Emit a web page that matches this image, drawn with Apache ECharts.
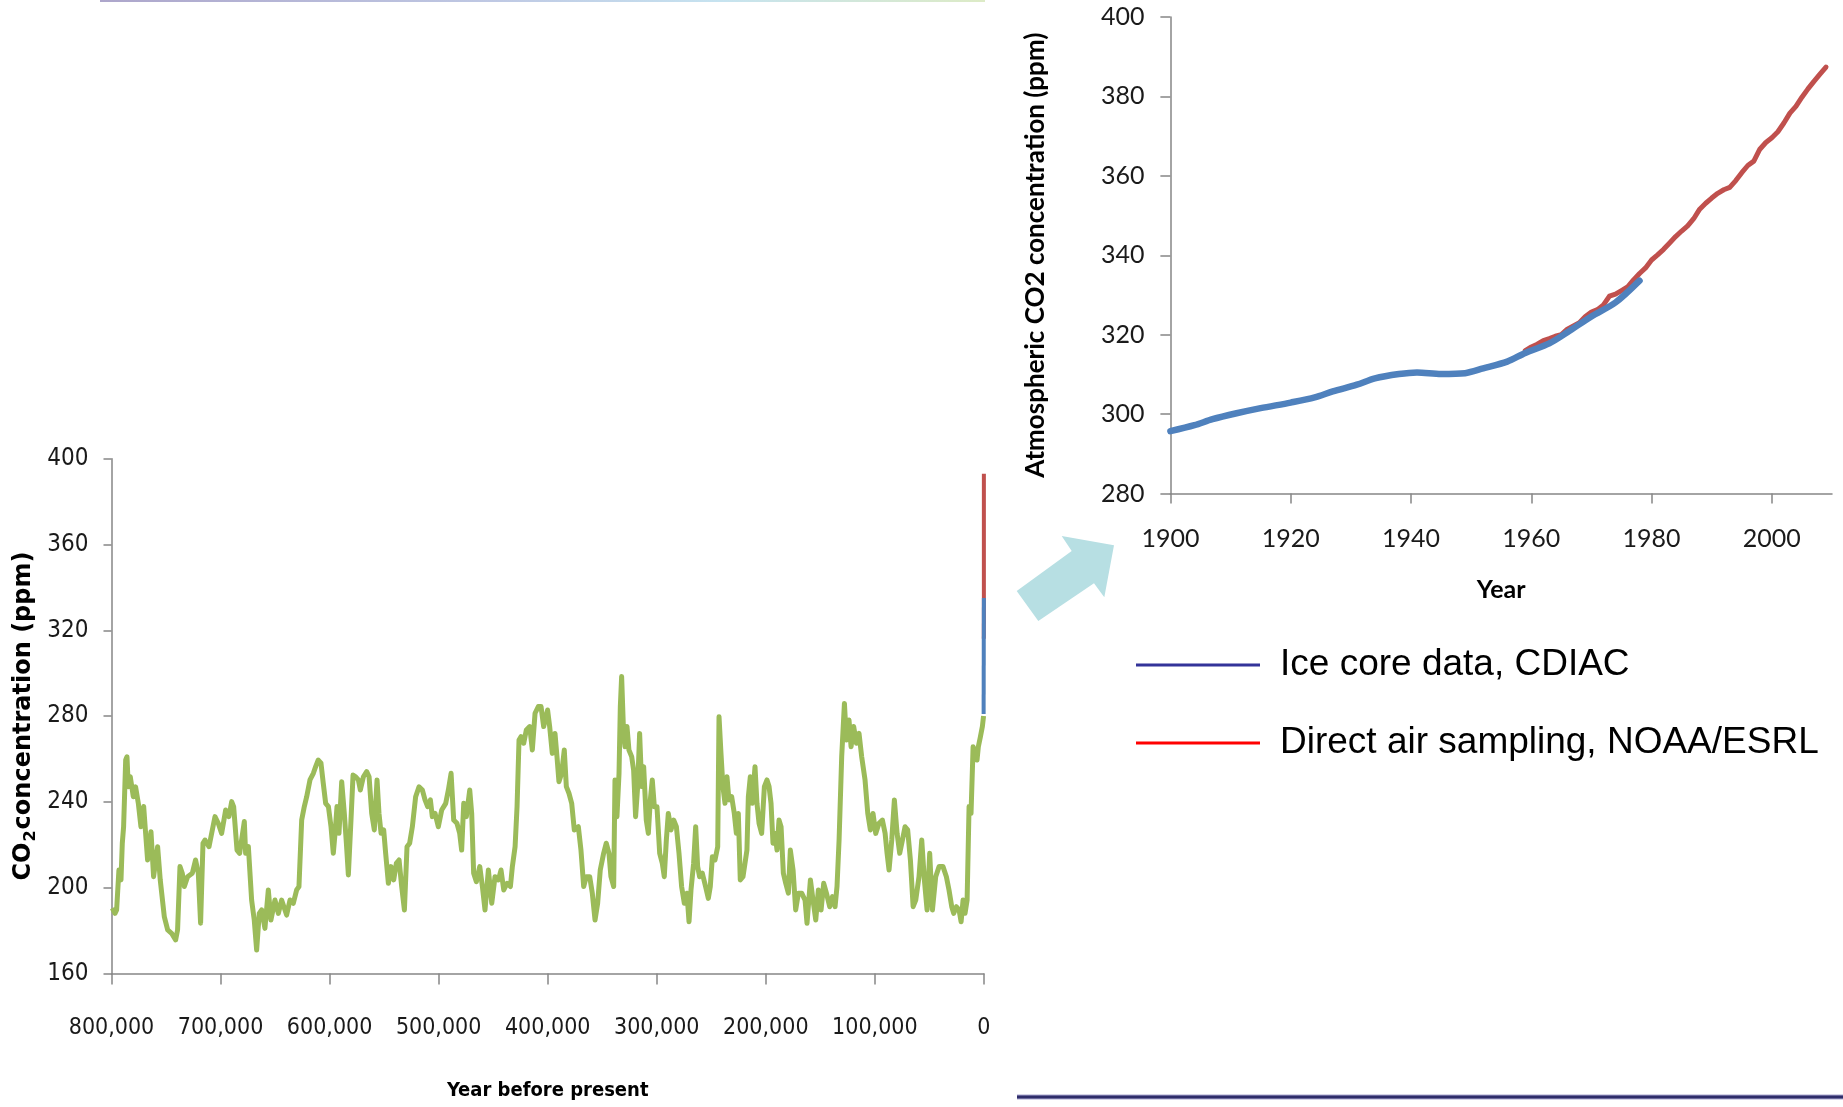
<!DOCTYPE html>
<html>
<head>
<meta charset="utf-8">
<script src="https://cdn.jsdelivr.net/npm/echarts@6/dist/echarts.min.js"></script>
<style>
html,body{margin:0;padding:0;background:#ffffff;}
#chart{width:1843px;height:1107px;}
</style>
</head>
<body>
<div id="chart"></div>
<script>
// ---------- tick labels ----------
const leftXTicks = [0, 100000, 200000, 300000, 400000, 500000, 600000, 700000, 800000];
const leftYTicks = [160, 200, 240, 280, 320, 360, 400];
const rightXTicks = [1900, 1920, 1940, 1960, 1980, 2000];
const rightYTicks = [280, 300, 320, 340, 360, 380, 400];

// ---------- legend names ----------
const legendNames = ['Ice core data, CDIAC', 'Direct air sampling, NOAA/ESRL'];

// ---------- 800,000-year ice core record (thousand years before present, ppm) ----------
const epicaKyrBP = [
799.3,796.8,795.3,793.2,791.3,790.1,788.9,787,785.8,784.6,782.8,780,777.9,775.4,773,770.5,768.7,766.9,763.8,761.4,
757.7,755.3,751.6,748.5,744.9,741.2,739.4,737.2,735.1,733.2,730.2,725.9,722.9,720.4,718.3,716.1,714.3,710.6,705.1,702.1,
699,695.3,692.3,689.8,688,684.9,682.5,680.7,678.2,677,674.5,671.5,669.1,666.9,664.5,662.3,659.3,656.2,653.8,650.1,
647,644,639.4,636.3,633.3,630.2,628.1,625.6,623.2,621,618,614.9,612.8,610.4,607.9,605.8,603.6,
601.1,598.7,596.6,595,593.2,591.4,588.9,586.5,584.6,582.8,580.4,578.5,576.1,573.6,571.8,569,566,563.8,561.4,559,
556.5,554.7,552.8,550.4,548.6,546.1,543.7,541.2,538.8,536.3,533.9,531.4,529,526.6,524.1,521.1,518,514.9,512.5,510.1,
507.6,505.8,503.3,500.3,497.2,493.5,491.1,488.6,486.2,483.2,480.7,478.9,477,474.6,471.5,469.7,467.9,465.4,462.3,459.9,
457.5,454.4,451.3,448.3,445.2,442.8,440.3,437.3,434.2,432.4,429.9,428.1,426.3,424.4,422,419.6,416.5,414.1,411.6,408.6,
406.1,403.7,
400.1,398.2,395.8,393.3,391.5,389.7,387.2,384.8,382.9,380.5,378,375.6,371.9,369.5,367,364.6,361.5,359.1,356.6,354.2,
351.8,348.7,346.3,343.8,342,339.5,338.3,336.5,334.6,333.4,332.2,330.4,329.1,327.3,325.5,323,321.2,319.4,317.5,315.7,
313.8,312,309.6,307.7,305.9,304.1,302.2,299.8,297.3,294.9,293.1,291.2,289.4,286.9,284.5,282,279.6,277.2,274.7,272.3,
270.4,268.6,266.2,264.3,262.5,260.7,258.2,255.2,252.7,250.9,249,246.6,244.1,242.9,241.1,239.3,237.4,235.6,233.8,231.3,
228.9,227,225.2,223.4,220.9,219.1,217.3,216,214.2,212.4,209.9,208.1,206.2,203.8,201.3,
198.9,197,195.2,193.4,191.5,189.7,187.9,186,183.9,181.7,179.3,177.5,175,172.6,170.1,167.1,164,162.2,159.1,156.7,
154.2,151.8,149.3,146.9,144.4,141.4,138.9,136.5,134.7,132.8,130.4,127.9,126.1,123.7,121.8,119.4,116.9,114.5,112.1,109,
106.5,104.1,101.7,99.2,96.2,93.1,90.6,88.8,87,84.5,82.1,79.6,77.2,74.7,72.3,69.9,67.4,64.9,62.5,59.5,
57,54.6,52.1,49.7,47.2,44.2,41.1,37.5,34.4,32,29.5,27.7,25.2,22.8,20.9,19.1,17.3,15.4,13.6,11.8,
9.9,8.1,6.3,5.1,3.2,1.4,0.3
];
const epicaCO2 = [
190.4,188,189.6,208.2,203.6,220.7,228.4,259.5,261,247,251.7,242.4,247,239.3,228.4,237.8,225.3,212.9,226.1,205.1,
219.1,203.6,186.5,180.3,178.7,175.6,180.3,209.8,206.7,200.5,205.1,206.7,212.9,206.7,183.4,220.7,222.2,219.1,233.1,230,
225.3,236.2,233.1,240.1,237.8,217.5,216,222.2,230.8,216,219.1,194.2,184.9,170.9,188,189.6,181,198.9,184.9,194.2,
188,194.2,187.2,194.2,192.7,198.9,200.5,231.5,237.8,242.4,250.2,253.3,256.4,259.5,258,248.6,239.3,
237.8,228.4,216,225.3,237.8,225.3,249.4,234.6,220.7,205.9,231.5,252.5,251.7,250.2,245.5,251.7,254.1,251.7,234.6,226.9,
250.2,234.6,225.3,226.9,216,202,209.8,203.6,211.3,212.9,200.5,189.6,219.1,220.7,228.4,242.4,247,245.5,240.9,237.8,
240.9,233.1,234.6,228.4,236.2,239.3,245.5,253.3,231.5,230,225.3,217.5,239.3,233.1,245.5,234.6,206.7,202.8,209.8,200.5,
189.6,208.2,192.7,205.1,203.6,208.2,198.9,202,200.5,209.8,219.1,237.8,268.8,270.4,267.3,273.5,275.1,264.2,281.3,284.4,
284.4,275.1,
282.8,275.1,262.6,271.9,261.1,249.4,253.3,264.2,247.1,244,239.3,226.9,228.4,217.5,200.5,205.1,205.1,197.4,184.9,192.7,
208.2,216,220.7,216,205.1,200.5,250.2,233.1,253.3,284.4,298.4,271.9,265.7,275.1,264.2,261.1,254.8,233.1,247.1,271.9,
247.1,256.4,231.5,225.3,240.9,250.2,237.7,237.7,216,211.3,205.1,222.2,234.6,226.9,231.5,228.4,216,200.5,192.7,197.4,
184.1,198.9,211.3,228.4,209.8,205.1,206.7,200.5,195,200.5,214.4,212.9,219.1,279.7,262.6,247.1,239.3,251.7,240.9,242.4,
234.6,225.3,234.6,203.6,205.1,211.3,217.5,242.4,251.7,239.3,256.4,239.3,230,225.3,247.1,
250.2,247.1,239.3,220.7,225.3,217.5,231.5,228.4,206.7,202,197.4,217.5,208.2,189.6,197.4,197.4,194.2,183.4,203.6,194.2,
184.9,198.9,189.6,202,197.4,191.1,195.8,191.1,200.5,222.2,261.1,285.9,268.8,278.2,265.7,275.1,267.3,271.9,261.1,250.2,
234.6,226.9,234.6,225.3,230,231.5,225.3,216,208.2,222.2,240.9,225.3,216,222.2,228.4,226.9,212.9,191.1,194.2,205.1,
222.2,203.6,189.6,216,189.6,205.1,209.8,209.8,205.1,198.9,191.1,188,191.1,189.6,184.1,194.2,188,194.2,237.8,234.6,
265.7,262.6,259.5,265.7,270.4,275.1,280
];

// ---------- recent record, right panel ----------
const iceCoreYears = [1900,1904,1907,1911,1915,1920,1924,1927,1931,1934,1938,1941,1945,1949,1952,1956,1959,1963,1966,1970,1974,1978];
const iceCoreCO2   = [295.7,297.2,298.7,300.2,301.5,302.9,304.2,305.7,307.4,309,310.1,310.5,310.1,310.3,311.5,313.2,315.4,317.8,320.6,324.6,328.1,333.6];

const airYears = [1959,1960,1961,1962,1963,1964,1965,1966,1967,1968,1969,1970,1971,1972,1973,1974,1975,1976,1977,1978,
                  1979,1980,1981,1982,1983,1984,1985,1986,1987,1988,1989,1990,1991,1992,1993,1994,1995,1996,1997,1998,
                  1999,2000,2001,2002,2003,2004,2005,2006,2007,2008,2009];
const airCO2 = [316.0,316.9,317.6,318.5,319.0,319.6,320.0,321.4,322.2,323.0,324.6,325.7,326.3,327.5,329.7,330.2,331.1,332.0,333.8,335.4,
                336.8,338.8,340.1,341.5,343.1,344.7,346.1,347.4,349.2,351.6,353.1,354.4,355.6,356.5,357.1,358.8,360.8,362.6,363.7,366.7,
                368.4,369.6,371.1,373.3,375.8,377.5,379.8,381.9,383.8,385.6,387.4];

// ---------- recent record as shown at the right edge of the left panel ----------
const presentYear = 2011;
const leftIceYears = [1750, 1978];
const leftIceCO2   = [281, 335];
const leftAirYears = [1959, 2011];
const leftAirCO2   = [316, 393];

// ---------- styling ----------
const narrow = "'DejaVu Sans Condensed','Liberation Sans Narrow','Arial Narrow',sans-serif";
const calibriLike = "Lato,'Open Sans',sans-serif";
const axisGray = '#868686';
const txt = '#1a1a1a';

const chart = echarts.init(document.getElementById('chart'), null, {renderer: 'canvas'});

const option = {
  animation: false,
  backgroundColor: '#ffffff',
  grid: [
    {left: 111.5, top: 458.7, width: 872.4, height: 514.7},
    {left: 1170.4, top: 17, width: 661.6, height: 476.5}
  ],
  xAxis: [
    {
      type: 'value', gridIndex: 0, min: 0, max: 800000, interval: 100000, inverse: true,
      axisLine: {show: true, onZero: false, lineStyle: {color: axisGray, width: 1.5}},
      axisTick: {show: true, length: 11, customValues: leftXTicks, lineStyle: {color: axisGray, width: 1.5}},
      axisLabel: {customValues: leftXTicks, formatter: v => v.toLocaleString('en-US'),
                  fontFamily: narrow, fontSize: 23, color: txt, margin: 43, hideOverlap: false},
      splitLine: {show: false},
      name: 'Year before present', nameLocation: 'middle', nameGap: 107,
      nameTextStyle: {fontFamily: narrow, fontWeight: 'bold', fontSize: 20, color: '#000'}
    },
    {
      type: 'value', gridIndex: 1, min: 1900, max: 2010, interval: 20,
      axisLine: {show: true, onZero: false, lineStyle: {color: axisGray, width: 1.5}},
      axisTick: {show: true, length: 10, customValues: rightXTicks, lineStyle: {color: axisGray, width: 1.5}},
      axisLabel: {customValues: rightXTicks, formatter: v => String(v),
                  fontFamily: calibriLike, fontSize: 25, color: txt, margin: 33, hideOverlap: false},
      splitLine: {show: false},
      name: 'Year', nameLocation: 'middle', nameGap: 84,
      nameTextStyle: {fontFamily: calibriLike, fontWeight: 'bold', fontSize: 25, color: '#000'}
    }
  ],
  yAxis: [
    {
      type: 'value', gridIndex: 0, min: 160, max: 400, interval: 40,
      axisLine: {show: true, onZero: false, lineStyle: {color: axisGray, width: 1.5}},
      axisTick: {show: true, length: 8, customValues: leftYTicks, lineStyle: {color: axisGray, width: 1.5}},
      axisLabel: {customValues: leftYTicks, fontFamily: narrow, fontSize: 24, color: txt, margin: 23},
      splitLine: {show: false},
      name: '{a|CO}{s|2}{a|concentration (ppm)}', nameLocation: 'middle', nameGap: 73, nameRotate: 90,
      nameTextStyle: {
        rich: {
          a: {fontFamily: "'DejaVu Sans',sans-serif", fontWeight: 'bold', fontSize: 24, color: '#000'},
          s: {fontFamily: "'DejaVu Sans',sans-serif", fontWeight: 'bold', fontSize: 16, color: '#000', padding: [14, 1, 0, 1]}
        }
      }
    },
    {
      type: 'value', gridIndex: 1, min: 280, max: 400, interval: 20,
      axisLine: {show: true, onZero: false, lineStyle: {color: axisGray, width: 1.5}},
      axisTick: {show: true, length: 10, customValues: rightYTicks, lineStyle: {color: axisGray, width: 1.5}},
      axisLabel: {customValues: rightYTicks, fontFamily: calibriLike, fontSize: 25, color: txt, margin: 26},
      splitLine: {show: false},
      name: 'Atmospheric CO2 concentration (ppm)', nameLocation: 'middle', nameGap: 122, nameRotate: 90,
      nameTextStyle: {fontFamily: calibriLike, fontWeight: 'bold', fontSize: 26, color: '#000'}
    }
  ],
  legend: {
    orient: 'vertical', left: 1136, top: 639, padding: 0, itemGap: 26,
    itemWidth: 124, itemHeight: 3, icon: 'rect', selectedMode: false,
    data: [
      {name: legendNames[0], itemStyle: {color: '#333399', borderWidth: 0}},
      {name: legendNames[1], itemStyle: {color: '#FF0000', borderWidth: 0}}
    ],
    textStyle: {fontFamily: "'Liberation Sans',Arial,sans-serif", fontSize: 37, color: '#000', lineHeight: 40, padding: [12, 0, 0, 15]}
  },
  series: [
    {
      type: 'line', name: 'EPICA', xAxisIndex: 0, yAxisIndex: 0, showSymbol: false, z: 2,
      data: epicaKyrBP.map((k, i) => [k * 1000, epicaCO2[i]]),
      lineStyle: {color: '#9BBB59', width: 5, join: 'round'}, itemStyle: {color: '#9BBB59'}
    },
    {
      type: 'line', name: legendNames[1], xAxisIndex: 0, yAxisIndex: 0, showSymbol: false, z: 3,
      data: leftAirYears.map((y, i) => [presentYear - y, leftAirCO2[i]]),
      lineStyle: {color: '#C0504D', width: 4}, itemStyle: {color: '#C0504D'}
    },
    {
      type: 'line', name: legendNames[0], xAxisIndex: 0, yAxisIndex: 0, showSymbol: false, z: 4,
      data: leftIceYears.map((y, i) => [presentYear - y, leftIceCO2[i]]),
      lineStyle: {color: '#4F81BD', width: 4}, itemStyle: {color: '#4F81BD'}
    },
    {
      type: 'line', name: legendNames[1], xAxisIndex: 1, yAxisIndex: 1, showSymbol: false, z: 3,
      data: airYears.map((y, i) => [y, airCO2[i]]),
      lineStyle: {color: '#C0504D', width: 5, join: 'round', cap: 'round'}, itemStyle: {color: '#C0504D'}
    },
    {
      type: 'line', name: legendNames[0], xAxisIndex: 1, yAxisIndex: 1, showSymbol: false, z: 4, smooth: 0.3,
      data: iceCoreYears.map((y, i) => [y, iceCoreCO2[i]]),
      lineStyle: {color: '#4F81BD', width: 6.5, join: 'round', cap: 'round'}, itemStyle: {color: '#4F81BD'}
    }
  ],
  graphic: [
    {
      type: 'rect', silent: true, shape: {x: 100, y: 0, width: 885, height: 2},
      style: {fill: new echarts.graphic.LinearGradient(0, 0, 1, 0, [
        {offset: 0, color: '#ADA6CB'}, {offset: 0.45, color: '#BFC9E4'},
        {offset: 0.7, color: '#C6E3F0'}, {offset: 1, color: '#DDEBC6'}])}
    },
    {
      type: 'polygon', silent: true,
      shape: {points: [[1016.7, 591], [1071.7, 551], [1061.7, 536], [1114, 545.3], [1104.3, 597.3], [1094, 583.3], [1038.3, 621]]},
      style: {fill: '#B7DFE3'}
    },
    {type: 'rect', silent: true, shape: {x: 1017, y: 1094.5, width: 826, height: 5}, style: {fill: '#A9A7D0'}},
    {type: 'rect', silent: true, shape: {x: 1017, y: 1095.5, width: 826, height: 3}, style: {fill: '#2E2D6A'}}
  ]
};

chart.setOption(option);
</script>
</body>
</html>
